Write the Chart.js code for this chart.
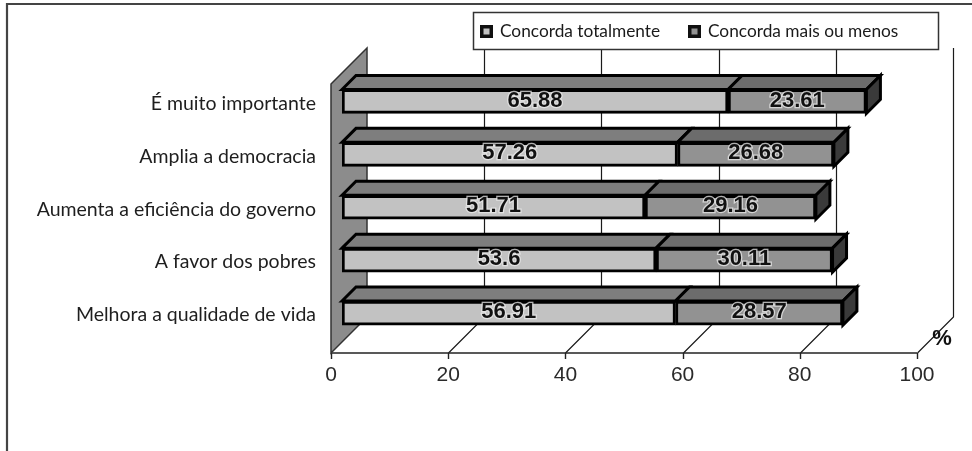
<!DOCTYPE html>
<html lang="pt">
<head>
<meta charset="utf-8">
<title>Opinião sobre o orçamento participativo</title>
<script src="https://cdn.jsdelivr.net/npm/chart.js@4.4.1/dist/chart.umd.min.js"></script>
<style>
  html, body { margin: 0; padding: 0; background: #ffffff; }
  #wrap { position: relative; width: 972px; height: 451px; }
</style>
</head>
<body>
<div id="wrap"><canvas id="chart" width="972" height="451"></canvas></div>
<script>
// Categories (top to bottom) and the two answer groups, in percent
const categories = [
  'É muito importante',
  'Amplia a democracia',
  'Aumenta a eficiência do governo',
  'A favor dos pobres',
  'Melhora a qualidade de vida'
];
const concordaTotalmente = [65.88, 57.26, 51.71, 53.6, 56.91];
const concordaMaisOuMenos = [23.61, 26.68, 29.16, 30.11, 28.57];
const seriesNames = ['Concorda totalmente', 'Concorda mais ou menos'];
const axisTicks = [0, 20, 40, 60, 80, 100];
const unitLabel = '%';

// Shades for the front, top and side faces of the boxes
const FRONT = ['#c2c2c2', '#929292'];
const TOP = ['#7e7e7e', '#6c6c6c'];
const SIDE = '#3a3a3a';

// Oblique projection of the "3D" frame
const BAR_Z = 11;      // bars sit this far behind the front plane
const DEPTH = 36;      // full depth of the floor and side wall
const BAR_DEPTH = 14;  // depth of each box

const framePlugin = {
  id: 'frame3d',
  beforeDatasetsDraw(chart) {
    const ctx = chart.ctx;
    const xs = chart.scales.x;
    const area = chart.chartArea;
    const floorY = area.bottom + 13.5;
    const wallTopY = area.top + 9;
    const fx = v => xs.getPixelForValue(v) - BAR_Z;   // front plane
    const bx = v => fx(v) + DEPTH;                      // back wall

    ctx.save();
    // outer frame (top and left edges)
    ctx.strokeStyle = '#444';
    ctx.lineWidth = 2.2;
    ctx.beginPath();
    ctx.moveTo(7, 451);
    ctx.lineTo(7, 4);
    ctx.lineTo(972, 4);
    ctx.stroke();

    // back wall grid lines
    ctx.strokeStyle = '#1a1a1a';
    ctx.lineWidth = 1.2;
    axisTicks.forEach(v => {
      if (v === axisTicks[0]) return;
      const x = Math.round(bx(v)) + 0.5;
      ctx.beginPath();
      ctx.moveTo(x, wallTopY - DEPTH);
      ctx.lineTo(x, floorY - DEPTH);
      ctx.lineTo(x - DEPTH, floorY);
      ctx.stroke();
    });

    // floor front edge and tick marks
    ctx.strokeStyle = '#222';
    ctx.lineWidth = 1.4;
    ctx.beginPath();
    ctx.moveTo(fx(0), floorY);
    ctx.lineTo(fx(100), floorY);
    ctx.stroke();
    axisTicks.forEach(v => {
      const x = Math.round(fx(v)) + 0.5;
      ctx.beginPath();
      ctx.moveTo(x, floorY);
      ctx.lineTo(x, floorY + 6);
      ctx.stroke();
    });

    // left side wall
    ctx.fillStyle = '#8c8c8c';
    ctx.strokeStyle = '#333';
    ctx.lineWidth = 1.5;
    ctx.beginPath();
    ctx.moveTo(fx(0), wallTopY);
    ctx.lineTo(bx(0), wallTopY - DEPTH);
    ctx.lineTo(bx(0), floorY - DEPTH);
    ctx.lineTo(fx(0), floorY);
    ctx.closePath();
    ctx.fill();
    ctx.stroke();

    // unit label beside the floor corner
    ctx.fillStyle = '#111';
    ctx.font = 'bold 22px "Liberation Sans", Arial, sans-serif';
    ctx.textAlign = 'center';
    ctx.textBaseline = 'middle';
    ctx.fillText(unitLabel, fx(100) + 25, floorY - 14);

    // legend box
    ctx.fillStyle = '#fff';
    ctx.fillRect(473, 12, 466, 38);
    ctx.strokeStyle = '#333';
    ctx.lineWidth = 1.5;
    ctx.strokeRect(473.5, 12.5, 465, 37);
    const legendX = [480, 688];
    chart.data.datasets.forEach((ds, i) => {
      const x = legendX[i];
      ctx.fillStyle = '#111';
      ctx.fillRect(x, 25, 13, 13);
      ctx.fillStyle = ds.backgroundColor;
      ctx.fillRect(x + 3.5, 28.5, 6, 6);
      ctx.fillStyle = '#1a1a1a';
      ctx.font = '17.3px Lato, "Open Sans", sans-serif';
      ctx.textAlign = 'left';
      ctx.textBaseline = 'middle';
      ctx.fillText(ds.label, x + 20, 31);
    });
    ctx.restore();
  },
  afterDatasetsDraw(chart) {
    const ctx = chart.ctx;
    const n = chart.data.datasets.length;
    ctx.save();
    ctx.lineJoin = 'miter';
    ctx.strokeStyle = '#000';
    ctx.lineWidth = 3;
    const d = BAR_DEPTH;
    for (let i = 0; i < n; i++) {
      const meta = chart.getDatasetMeta(i);
      meta.data.forEach(bar => {
        const l = Math.min(bar.base, bar.x), r = Math.max(bar.base, bar.x);
        const t = bar.y - bar.height / 2, b = bar.y + bar.height / 2;
        // top face
        ctx.fillStyle = TOP[i];
        ctx.beginPath();
        ctx.moveTo(l, t);
        ctx.lineTo(l + d, t - d);
        ctx.lineTo(r + d, t - d);
        ctx.lineTo(r, t);
        ctx.closePath();
        ctx.fill();
        ctx.stroke();
        // right face on the outermost box
        if (i === n - 1) {
          ctx.fillStyle = SIDE;
          ctx.beginPath();
          ctx.moveTo(r, t);
          ctx.lineTo(r + d, t - d);
          ctx.lineTo(r + d, b - d);
          ctx.lineTo(r, b);
          ctx.closePath();
          ctx.fill();
          ctx.stroke();
        }
      });
    }
    // value labels centred on each front face
    ctx.font = 'bold 22px "Liberation Sans", Arial, sans-serif';
    ctx.textAlign = 'center';
    ctx.textBaseline = 'middle';
    for (let i = 0; i < n; i++) {
      const meta = chart.getDatasetMeta(i);
      const values = chart.data.datasets[i].data;
      meta.data.forEach((bar, j) => {
        const cx = (bar.base + bar.x) / 2;
        const cy = bar.y - 1;
        const txt = String(values[j]);
        ctx.lineWidth = 2.5;
        ctx.strokeStyle = 'rgba(235,235,235,0.75)';
        ctx.strokeText(txt, cx, cy);
        ctx.fillStyle = '#111';
        ctx.fillText(txt, cx, cy);
      });
    }
    ctx.restore();
  }
};

new Chart(document.getElementById('chart'), {
  type: 'bar',
  data: {
    labels: categories,
    datasets: [
      { label: seriesNames[0], data: concordaTotalmente, backgroundColor: FRONT[0] },
      { label: seriesNames[1], data: concordaMaisOuMenos, backgroundColor: FRONT[1] }
    ]
  },
  options: {
    indexAxis: 'y',
    responsive: false,
    animation: false,
    devicePixelRatio: 1,
    layout: { padding: { top: 75, right: 44, bottom: 51.5, left: 0 } },
    datasets: {
      bar: {
        borderColor: '#000',
        borderWidth: 3,
        borderSkipped: false,
        barThickness: 24
      }
    },
    plugins: {
      legend: { display: false },
      tooltip: { enabled: false }
    },
    scales: {
      x: {
        stacked: true,
        min: axisTicks[0],
        max: axisTicks[axisTicks.length - 1],
        afterBuildTicks: s => { s.ticks = axisTicks.map(v => ({ value: v })); },
        afterFit: s => { s.height = 60; },
        grid: { display: false, drawTicks: false },
        border: { display: false },
        ticks: {
          padding: 23,
          labelOffset: -BAR_Z,
          color: '#2a2a2a',
          font: { family: '"Liberation Sans", Arial, sans-serif', size: 21 }
        }
      },
      y: {
        stacked: true,
        afterFit: s => { s.width = 342; },
        grid: { display: false, drawTicks: false },
        border: { display: false },
        ticks: {
          padding: 26,
          labelOffset: 2,
          color: '#1e1e1e',
          font: { family: 'Lato, "Open Sans", sans-serif', size: 19.5 }
        }
      }
    }
  },
  plugins: [framePlugin]
});
</script>
</body>
</html>
